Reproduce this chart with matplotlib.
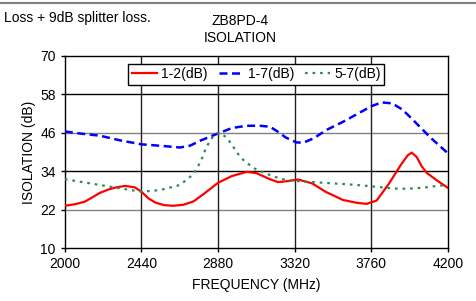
import matplotlib
matplotlib.use("Agg")
import matplotlib.pyplot as plt

plt.rcParams['font.family'] = ['Liberation Sans', 'DejaVu Sans']

# 1-2 isolation
f12 = [2000, 2060, 2115, 2160, 2200, 2250, 2300, 2345, 2400, 2440, 2480, 2520, 2570, 2620, 2680,
       2740, 2800, 2880, 2960, 3044, 3100, 3178, 3224, 3280, 3339, 3420, 3500, 3598, 3680, 3733,
       3790, 3860, 3930, 3970, 3992, 4020, 4050, 4078, 4140, 4200]
d12 = [23.2, 23.7, 24.5, 25.9, 27.2, 28.3, 29.0, 29.4, 29.0, 27.6, 25.5, 24.2, 23.4, 23.2, 23.5,
       24.6, 27.0, 30.4, 32.5, 33.8, 33.4, 31.5, 30.6, 30.9, 31.4, 30.2, 27.5, 25.0, 24.1, 23.8,
       24.8, 30.0, 36.0, 39.0, 39.8, 38.5, 35.5, 33.5, 31.0, 28.8]

# 1-7 isolation
f17 = [2000, 2100, 2201, 2320, 2440, 2560, 2661, 2720, 2780, 2880, 2960, 3044, 3120, 3178, 3216,
       3270, 3330, 3369, 3430, 3503, 3600, 3700, 3760, 3819, 3880, 3940, 4000, 4100, 4200]
d17 = [46.4, 45.7, 45.1, 43.6, 42.4, 41.9, 41.4, 42.0, 43.6, 45.8, 47.5, 48.2, 48.2, 47.9, 46.6,
       44.5, 43.0, 42.9, 44.3, 46.9, 49.5, 52.5, 54.3, 55.5, 55.2, 53.2, 50.0, 44.5, 39.6]

# 5-7 isolation
f57 = [2000, 2100, 2201, 2320, 2440, 2546, 2661, 2737, 2780, 2814, 2850, 2890, 2930, 2966, 3000,
       3034, 3100, 3178, 3240, 3311, 3450, 3598, 3720, 3848, 3920, 4000, 4080, 4136, 4200]
d57 = [31.5, 30.6, 29.7, 28.6, 27.6, 28.1, 29.7, 33.0, 37.0, 41.7, 44.8, 46.0, 44.5, 41.7, 39.0,
       37.0, 34.5, 32.8, 31.6, 31.0, 30.5, 30.0, 29.5, 28.8, 28.5, 28.6, 29.0, 29.4, 29.7]

xticks = [2000, 2440, 2880, 3320, 3760, 4200]
yticks = [10, 22, 34, 46, 58, 70]

fig = plt.figure(figsize=(4.77, 3.01), dpi=100)
ax = fig.add_axes([0.136, 0.176, 0.803, 0.638])

for y in yticks[1:-1]:
    ax.axhline(y, color='black' if y in (34, 58) else '#808080', lw=1, zorder=1)
for x in xticks[1:-1]:
    ax.axvline(x, color='#202020', lw=1, zorder=1)

ax.plot(f12, d12, color='#ff0000', lw=1.6, label='1-2(dB)', zorder=3)
ax.plot(f17, d17, color='#0000ff', lw=1.8, dashes=(3.2, 1.8), label='1-7(dB)', zorder=3)
ax.plot(f57, d57, color='#2e8b57', lw=1.6, dashes=(1.2, 2.2), label='5-7(dB)', zorder=3)

ax.set_xlim(2000, 4200)
ax.set_ylim(10, 70)
ax.set_xticks(xticks)
ax.set_yticks(yticks)
ax.tick_params(labelsize=10, length=3, direction='out', width=1)
for s in ax.spines.values():
    s.set_linewidth(1)
ax.set_xlabel('FREQUENCY (MHz)', fontsize=10, labelpad=5)
ax.set_ylabel('ISOLATION (dB)', fontsize=10, labelpad=3)

leg = ax.legend(loc='upper center', bbox_to_anchor=(0.5, 0.975), ncol=3, fontsize=10,
                frameon=True, fancybox=False, framealpha=1, edgecolor='black',
                handlelength=1.8, columnspacing=0.8, handletextpad=0.3, borderpad=0.25,
                borderaxespad=0.2)
leg.get_frame().set_linewidth(1)

fig.text(0.503, 0.902, 'ZB8PD-4\nISOLATION', ha='center', va='center', fontsize=10, linespacing=1.35)
fig.text(0.009, 0.94, 'Loss + 9dB splitter loss.', ha='left', va='center', fontsize=10)
fig.add_artist(plt.Line2D([0, 1], [0.99, 0.99], color='#808080', lw=1.5))

fig.savefig('out.png', dpi=100)
